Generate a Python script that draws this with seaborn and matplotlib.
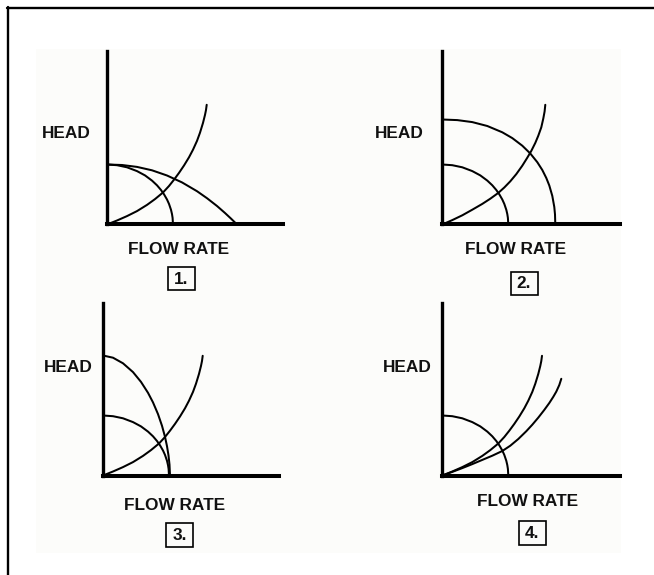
import matplotlib
matplotlib.use("Agg")
import matplotlib.pyplot as plt
from matplotlib.patches import Rectangle
from matplotlib.lines import Line2D
import seaborn as sns

# ---------------- data (relative flow rate / head units) ----------------
panel_labels = ["1.", "2.", "3.", "4."]
axis_x_label = "FLOW RATE"
axis_y_label = "HEAD"

# pump curve shared by all four panels
pump_small_q = [0, 10, 20, 30, 38, 45, 50, 54, 57, 60, 62, 64, 65, 65.6, 66]
pump_small_h = [60, 59.3, 57.2, 53.4, 49.1, 43.9, 39.2, 34.5, 30.2, 25.0, 20.6, 14.7, 10.4, 6.6, 0]

# panel 1: wider pump curve (same shut-off head)
pump_wide_q = [0, 15, 30, 45, 60, 75, 90, 100, 110, 118, 124, 128, 130]
pump_wide_h = [60, 59.5, 57.6, 54.2, 49.0, 42.1, 33.3, 26.3, 18.5, 11.5, 5.9, 2.0, 0]

# panel 2: larger (higher & wider) pump curve
pump_big_q = [0, 15, 30, 45, 60, 70, 80, 88, 95, 100, 104, 107, 110, 112, 112.7, 113]
pump_big_h = [105, 104.4, 102.4, 98.5, 92.2, 86.4, 78.8, 71.0, 62.3, 54.5, 46.5, 39.0, 28.6, 17.5, 10.1, 0]

# panel 3: higher shut-off head, same run-out flow
pump_tall_q = [0, 10, 20, 30, 38, 45, 50, 55, 59, 62, 64, 65.5, 66.5, 67]
pump_tall_h = [120, 117.8, 112.2, 103.4, 93.6, 82.7, 73.1, 61.4, 49.7, 38.7, 29.3, 20.1, 10.9, 0]

# system curves
system_a_q = [0, 10, 20, 30, 40, 48, 56, 62, 67, 72, 77, 82, 86, 90, 93, 96, 98, 99, 99.7]
system_a_h = [0, 4.0, 8.4, 13.4, 19.6, 25.4, 32.0, 38.5, 44.8, 51.6, 59.0, 67.2, 74.8, 83.6, 91.8, 101.6, 109.6, 114.5, 119.7]

system_b_q = [0, 10, 20, 30, 40, 48, 56, 62, 68, 74, 80, 85, 89, 93, 96, 99, 101, 102.3, 103]
system_b_h = [0, 4.4, 9.2, 14.8, 20.6, 25.8, 31.6, 37.0, 43.2, 50.4, 58.8, 66.8, 73.6, 81.6, 88.8, 97.2, 106, 113, 119.7]

system_c_q = [0, 10, 20, 30, 40, 50, 60, 68, 76, 84, 90, 96, 102, 107, 111, 114, 117, 119]
system_c_h = [0, 3.6, 7.4, 11.4, 15.6, 19.8, 24.5, 29.8, 36.5, 44.3, 50.8, 57.9, 65.6, 72.5, 78.7, 83.9, 90.5, 96.7]

# ---------------- layout ----------------
W, H = 654, 575
sns.set_style("white")
plt.rcParams["font.family"] = ["Liberation Sans", "DejaVu Sans"]

fig = plt.figure(figsize=(W / 100, H / 100), dpi=100)
fig.patch.set_facecolor("white")


def fx(x):
    return x / W


def fy(y):
    return 1 - y / H


# light panel background and the frame lines
fig.add_artist(Rectangle((fx(36), fy(553)), fx(621) - fx(36), fy(49) - fy(553),
                         transform=fig.transFigure, facecolor="#fcfcfa",
                         edgecolor="none", zorder=0))
fig.add_artist(Line2D([fx(7), 1.0], [fy(7.5), fy(7.5)], color="black", lw=1.7,
                      transform=fig.transFigure))
fig.add_artist(Line2D([fx(8), fx(8)], [fy(6.5), 0.0], color="black", lw=1.7,
                      transform=fig.transFigure))

panels = [
    dict(origin=(107, 224.5), xext=176, yext=173.5,
         curves=[(pump_small_q, pump_small_h), (pump_wide_q, pump_wide_h), (system_a_q, system_a_h)],
         head=(66, 134), flow=(179, 249), box=(181.5, 278.5)),
    dict(origin=(442.3, 224.5), xext=178, yext=173.5,
         curves=[(pump_small_q, pump_small_h), (pump_big_q, pump_big_h), (system_b_q, system_b_h)],
         head=(399, 134), flow=(516, 249), box=(524, 283.5)),
    dict(origin=(103, 475.5), xext=176, yext=173,
         curves=[(pump_small_q, pump_small_h), (pump_tall_q, pump_tall_h), (system_a_q, system_a_h)],
         head=(68, 367), flow=(174.5, 505), box=(180, 535)),
    dict(origin=(442.3, 475.5), xext=178, yext=172.5,
         curves=[(pump_small_q, pump_small_h), (system_a_q, system_a_h), (system_c_q, system_c_h)],
         head=(407, 367), flow=(528, 502), box=(532, 533)),
]

txt_kw = dict(ha="center", va="center", fontsize=12.4, fontweight="bold", color="#111111")

for p, lab in zip(panels, panel_labels):
    ox, oy = p["origin"]
    ax = fig.add_axes([fx(ox), fy(oy), p["xext"] / W, p["yext"] / H])
    ax.set_facecolor("none")
    for q, h in p["curves"]:
        sns.lineplot(x=q, y=h, ax=ax, color="black", linewidth=1.45,
                     sort=False, estimator=None)
    ax.set_xlim(0, p["xext"])
    ax.set_ylim(0, p["yext"])
    ax.set_xticks([])
    ax.set_yticks([])
    ax.set_xlabel("")
    ax.set_ylabel("")
    ax.spines["top"].set_visible(False)
    ax.spines["right"].set_visible(False)
    ax.spines["left"].set_linewidth(2.4)
    ax.spines["bottom"].set_linewidth(2.9)
    for s in ("left", "bottom"):
        ax.spines[s].set_color("black")
        ax.spines[s].set_capstyle("projecting")

    fig.text(fx(p["head"][0]), fy(p["head"][1]), axis_y_label, **txt_kw)
    fig.text(fx(p["flow"][0]), fy(p["flow"][1]), axis_x_label, **txt_kw)
    bx, by = p["box"]
    bw, bh = 27, 23.5
    fig.add_artist(Rectangle((fx(bx - bw / 2), fy(by + bh / 2)), bw / W, bh / H,
                             transform=fig.transFigure, facecolor="none",
                             edgecolor="black", lw=1.2))
    fig.text(fx(bx), fy(by + 0.5), lab, **txt_kw)

fig.savefig("out.png", dpi=100)
